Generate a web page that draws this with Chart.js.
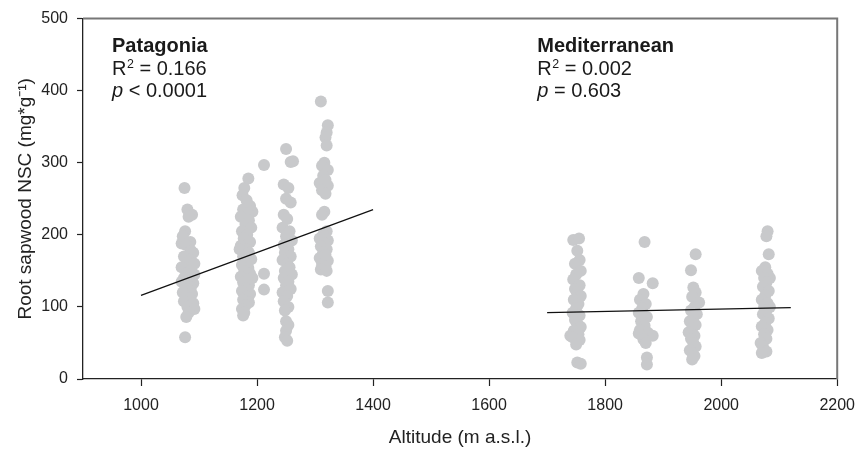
<!DOCTYPE html>
<html>
<head>
<meta charset="utf-8">
<script src="https://cdn.jsdelivr.net/npm/chart.js@4.4.1/dist/chart.umd.min.js"></script>
<style>
  html, body { margin: 0; padding: 0; background: #fff; }
  #wrap { width: 865px; height: 452px; }
</style>
</head>
<body>
<div id="wrap"><canvas id="myChart" width="865" height="452"></canvas></div>
<script>
// altitude (m a.s.l.), root sapwood NSC (mg/g)
const patagonia1 = [[1075,265],[1080,235],[1088,228],[1082,225],[1076,205],[1072,198],[1085,190],[1070,188],[1078,186],[1086,178],
    [1090,175],[1074,170],[1086,165],[1080,162],[1092,160],[1070,155],[1084,150],[1078,146],[1092,145],[1088,142],[1074,140],
    [1082,137],[1070,135],[1090,133],[1076,130],[1086,127],[1080,124],[1084,122],[1072,120],[1088,118],[1078,115],[1084,112],
    [1074,108],[1090,105],[1080,100],[1092,97],[1082,92],[1078,86],[1076,58]];
const patagonia2 = [[1178,265],[1185,278],[1175,255],[1182,248],[1188,240],[1176,235],[1192,232],[1184,230],[1172,225],[1186,220],
    [1180,215],[1190,210],[1174,205],[1183,200],[1177,195],[1188,190],[1172,185],[1182,180],[1170,180],[1186,175],[1176,170],
    [1190,166],[1180,162],[1174,158],[1185,154],[1178,150],[1188,146],[1172,142],[1192,140],[1182,138],[1176,134],[1186,130],
    [1180,126],[1174,122],[1188,118],[1182,114],[1176,110],[1186,106],[1180,102],[1174,97],[1178,92],[1176,88],
    [1212,297],[1212,146],[1212,124]];
const patagonia3 = [[1250,319],[1258,301],[1262,302],[1246,270],[1254,265],[1250,250],[1258,245],[1246,228],[1252,222],[1244,210],
    [1256,205],[1250,198],[1260,192],[1246,186],[1254,180],[1248,175],[1258,170],[1244,165],[1252,160],[1256,155],[1248,150],
    [1260,145],[1246,140],[1254,135],[1250,130],[1258,125],[1244,120],[1252,115],[1246,108],[1254,100],[1248,95],[1250,80],
    [1254,75],[1250,67],[1248,58],[1252,53]];
const patagonia4 = [[1310,385],[1322,352],[1320,342],[1318,335],[1320,324],[1316,300],[1312,296],[1322,290],[1314,282],[1318,276],
    [1308,272],[1322,268],[1312,262],[1318,257],[1316,232],[1312,228],[1320,205],[1314,200],[1308,195],[1322,192],[1316,188],
    [1310,184],[1320,180],[1314,176],[1318,172],[1308,168],[1322,164],[1312,160],[1318,156],[1310,152],[1320,150],[1322,122],
    [1322,106]];
const mediterranean1 = [[1745,193],[1755,195],[1752,178],[1756,165],[1748,160],[1758,150],[1750,145],[1745,138],[1756,130],[1748,125],
    [1752,120],[1758,115],[1746,110],[1754,104],[1750,98],[1744,92],[1756,88],[1748,88],[1752,77],[1748,82],[1758,72],[1746,67],
    [1754,62],[1740,60],[1744,58],[1756,54],[1750,48],[1752,23],[1758,21]];
const mediterranean2 = [[1868,190],[1858,140],[1882,133],[1866,118],[1860,110],[1870,104],[1864,98],[1858,92],[1872,86],[1862,80],
    [1868,74],[1860,68],[1874,64],[1858,63],[1882,60],[1866,55],[1870,50],[1872,30],[1872,20]];
const mediterranean3 = [[1956,173],[1948,151],[1952,127],[1956,120],[1950,114],[1962,106],[1954,100],[1948,95],[1958,90],[1952,85],
    [1946,80],[1956,75],[1950,70],[1944,65],[1954,60],[1948,56],[1952,50],[1956,45],[1946,40],[1950,36],[1954,32],[1950,27]];
const mediterranean4 = [[2080,205],[2078,198],[2082,173],[2076,155],[2070,150],[2080,146],[2084,140],[2074,140],[2078,134],[2072,128],
    [2082,122],[2076,116],[2070,110],[2080,105],[2074,100],[2084,100],[2078,95],[2072,90],[2082,84],[2076,78],[2070,73],[2080,68],
    [2074,62],[2078,56],[2068,50],[2072,45],[2078,38],[2070,36]];

// regression lines (end points)
const patagoniaFit = [[1000,116],[1400,235]];
const mediterraneanFit = [[1700,92],[2120,99]];

const xTicks = [1000, 1200, 1400, 1600, 1800, 2000, 2200];
const yTicks = [0, 100, 200, 300, 400, 500];

const regionNames = ['Patagonia', 'Mediterranean'];
const r2Labels = ['0.166', '0.002'];
const pLabels = ['< 0.0001', '= 0.603'];

const FONT = "'Liberation Sans', Arial, sans-serif";
const DOT = '#c8c9cb';

const toXY = arr => arr.map(p => ({x: p[0], y: p[1]}));

function dots(arr) {
    return {
        type: 'scatter',
        data: toXY(arr),
        pointRadius: 6,
        pointHoverRadius: 6,
        backgroundColor: DOT,
        borderWidth: 0,
        order: 2
    };
}
function fit(arr) {
    return {
        type: 'line',
        data: toXY(arr),
        borderColor: '#111',
        borderWidth: 1.2,
        pointRadius: 0,
        fill: false,
        order: 1
    };
}

// top and right frame lines plus the in-plot labels
const framePlugin = {
    id: 'frame',
    afterDraw(chart) {
        const {ctx, chartArea: a, scales} = chart;
        ctx.save();
        ctx.strokeStyle = '#777';
        ctx.lineWidth = 2;
        ctx.beginPath();
        ctx.moveTo(a.left, a.top);
        ctx.lineTo(a.right, a.top);
        ctx.lineTo(a.right, a.bottom);
        ctx.stroke();

        const anchors = [950, 1683];
        const size = 20;
        ctx.fillStyle = '#1a1a1a';
        ctx.textBaseline = 'alphabetic';
        ctx.textAlign = 'left';
        anchors.forEach((ax, i) => {
            const x = scales.x.getPixelForValue(ax);
            const y1 = scales.y.getPixelForValue(453);
            const y2 = y1 + 23;
            const y3 = y2 + 22;
            ctx.font = `bold ${size}px ${FONT}`;
            ctx.fillText(regionNames[i], x, y1);

            ctx.font = `${size}px ${FONT}`;
            ctx.fillText('R', x, y2);
            let w = ctx.measureText('R').width;
            ctx.font = `${size * 0.62}px ${FONT}`;
            ctx.fillText('2', x + w + 0.5, y2 - 7.5);
            w += ctx.measureText('2').width + 0.5;
            ctx.font = `${size}px ${FONT}`;
            ctx.fillText(' = ' + r2Labels[i], x + w, y2);

            ctx.font = `italic ${size}px ${FONT}`;
            ctx.fillText('p', x, y3);
            const pw = ctx.measureText('p').width;
            ctx.font = `${size}px ${FONT}`;
            ctx.fillText(' ' + pLabels[i], x + pw, y3);
        });
        ctx.restore();
    }
};

new Chart(document.getElementById('myChart'), {
    data: {
        datasets: [
            dots(patagonia1), dots(patagonia2), dots(patagonia3), dots(patagonia4),
            dots(mediterranean1), dots(mediterranean2), dots(mediterranean3), dots(mediterranean4),
            fit(patagoniaFit), fit(mediterraneanFit)
        ]
    },
    options: {
        responsive: false,
        animation: false,
        layout: { padding: { left: 0, right: 19, top: 15, bottom: 0 } },
        plugins: { legend: { display: false }, tooltip: { enabled: false } },
        scales: {
            x: {
                type: 'linear',
                min: 900,
                max: 2200,
                afterBuildTicks: s => { s.ticks = xTicks.map(v => ({value: v})); },
                afterFit: s => { s.height = 73; },
                grid: { drawOnChartArea: false, tickLength: 7, tickColor: '#222', tickWidth: 1.2 },
                border: { color: '#222', width: 1.3 },
                ticks: { color: '#222', padding: 10, font: { family: FONT, size: 16 }, callback: v => String(v) },
                title: {
                    display: true,
                    text: 'Altitude (m a.s.l.)',
                    color: '#222',
                    font: { family: FONT, size: 19 },
                    padding: { top: 0, bottom: 3 }
                }
            },
            y: {
                type: 'linear',
                min: 0,
                max: 500,
                afterBuildTicks: s => { s.ticks = yTicks.map(v => ({value: v})); },
                afterFit: s => { s.width = 83; },
                grid: { drawOnChartArea: false, tickLength: 6, tickColor: '#222', tickWidth: 1.2 },
                border: { color: '#222', width: 1.3 },
                ticks: { color: '#222', padding: 9, font: { family: FONT, size: 16 }, callback: v => String(v) },
                title: {
                    display: true,
                    text: 'Root sapwood NSC (mg*g⁻¹)',
                    color: '#222',
                    font: { family: FONT, size: 19 },
                    padding: { top: 14, bottom: 0 }
                }
            }
        }
    },
    plugins: [framePlugin]
});
</script>
</body>
</html>
